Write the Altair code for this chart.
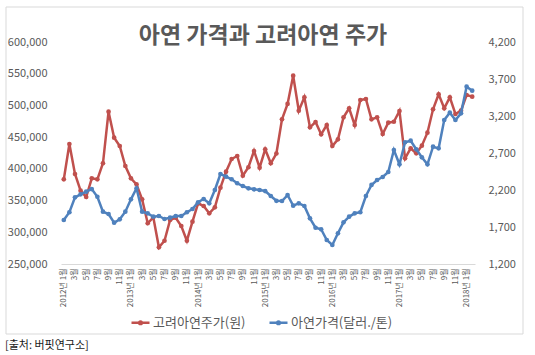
import altair as alt
import pandas as pd

# categories: monthly, 2012-01 .. 2018-02
months = [f"{y}-{m:02d}" for y in range(2012, 2019) for m in range(1, 13)][:74]

# 고려아연 주가 (원)
stock = [383500, 439200, 391900, 365600, 355600, 385100, 383500, 408800, 490100, 449100, 436000, 404500,
         385100, 375600, 352000, 314200, 323600, 276300, 286700, 319400, 323000, 309900, 286700, 316700,
         345700, 341400, 329900, 339400, 370300, 395500, 415500, 420300, 389200, 402500, 428200, 401800,
         430800, 408800, 424200, 478100, 502300, 546900, 491700, 512800, 465500, 473900, 454500, 469100,
         436000, 446600, 481300, 495500, 469100, 508600, 510100, 478100, 481300, 455000, 472800, 474300,
         491200, 416600, 432400, 424500, 436500, 457000, 493900, 517500, 495500, 512800, 486500, 491700,
         516400, 513800]

# 아연 가격 (달러/톤)
zinc = [1795, 1899, 2101, 2142, 2177, 2213, 2109, 1907, 1876, 1758, 1804, 1907,
        2074, 2223, 1907, 1885, 1839, 1849, 1808, 1826, 1849, 1849, 1899, 1943,
        2034, 2078, 2020, 2200, 2416, 2380, 2345, 2291, 2254, 2223, 2209, 2200,
        2186, 2119, 2054, 2051, 2132, 1988, 2020, 1984, 1817, 1690, 1669, 1524,
        1457, 1615, 1763, 1839, 1885, 1899, 2119, 2268, 2335, 2376, 2443, 2740,
        2547, 2845, 2866, 2750, 2642, 2547, 2785, 2763, 3146, 3245, 3146, 3236,
        3596, 3542]

series_names = ["고려아연주가(원)", "아연가격(달러./톤)"]
series_colors = ["#C0504D", "#4F81BD"]
left_ticks = [250000, 300000, 350000, 400000, 450000, 500000, 550000, 600000]
right_ticks = [1200, 1700, 2200, 2700, 3200, 3700, 4200]

df = pd.DataFrame({"month": months, "stock": stock, "zinc": zinc})

FONT = "Noto Sans CJK KR"
GRAY = "#595959"

label_expr = ("toNumber(slice(datum.value, 5)) % 2 == 1 ? "
              "(toNumber(slice(datum.value, 5)) == 1 ? slice(datum.value, 0, 4) + '년 1월' : "
              "toNumber(slice(datum.value, 5)) + '월') : ''")

xenc = alt.X("month:O", sort=months,
             scale=alt.Scale(padding=0.5),
             axis=alt.Axis(title=None, labelAngle=-90, labelExpr=label_expr, labelFontSize=8,
                           labelColor=GRAY, labelFont=FONT, labelOverlap=False, ticks=False,
                           tickSize=0, labelPadding=4, domainColor="#D9D9D9", grid=False))

color_scale = alt.Scale(domain=series_names, range=series_colors)

base = alt.Chart(df)

red = base.transform_calculate(series=f"'{series_names[0]}'").mark_line(
    strokeWidth=2.5, point=alt.OverlayMarkDef(filled=True, size=22)).encode(
    x=xenc,
    y=alt.Y("stock:Q", scale=alt.Scale(domain=[250000, 600000], nice=False, zero=False),
            axis=alt.Axis(title=None, orient="left", values=left_ticks, format=",d", labelFontSize=11,
                          labelColor=GRAY, labelFont=FONT, domain=False, ticks=False, tickSize=0,
                          grid=False, labelPadding=14)),
    color=alt.Color("series:N", scale=color_scale,
                    legend=alt.Legend(title=None, orient="none", legendX=69, legendY=270,
                                      direction="horizontal", labelFontSize=13, labelColor=GRAY,
                                      labelFont=FONT, columnPadding=18, labelOffset=2,
                                      symbolType="M-1,0L1,0M-0.15,0A0.15,0.15,0,1,1,0.15,0A0.15,0.15,0,1,1,-0.15,0",
                                      symbolSize=324, symbolStrokeWidth=2.5)),
)

blue = base.transform_calculate(series=f"'{series_names[1]}'").mark_line(
    strokeWidth=2.5, point=alt.OverlayMarkDef(filled=True, size=22)).encode(
    x=xenc,
    y=alt.Y("zinc:Q", scale=alt.Scale(domain=[1200, 4200], nice=False, zero=False),
            axis=alt.Axis(title=None, orient="right", values=right_ticks, format=",d", labelFontSize=11,
                          labelColor=GRAY, labelFont=FONT, domain=False, ticks=False, tickSize=0,
                          grid=False, labelPadding=13)),
    color=alt.Color("series:N", scale=color_scale),
)

frame = alt.Chart(alt.Data(values=[{}])).mark_rect(
    fill="#ffffff", fillOpacity=0, stroke="#D9D9D9", strokeWidth=1, strokeOpacity=1).encode(
    x=alt.value(-55), x2=alt.value(462), y=alt.value(-35), y2=alt.value(292)
)

source = alt.Chart(alt.Data(values=[{}])).mark_text(
    text="[출처: 버핏연구소]", align="left", baseline="middle", fontSize=11, font=FONT, color="#1a1a1a"
).encode(x=alt.value(-56), y=alt.value(304))

chart = alt.layer(frame, red, blue, source).resolve_scale(y="independent").properties(
    width=414, height=222,
    padding={"left": 61, "top": 42, "right": 60, "bottom": 91},
    autosize=alt.AutoSizeParams(type="none"),
    title=alt.TitleParams(text="아연 가격과 고려아연 주가", fontSize=23, fontWeight="bold", color=GRAY,
                          font=FONT, anchor="middle", offset=0, dx=-5, dy=41),
).configure_view(strokeWidth=0)

chart.save("out.html", embed_options={"renderer": "svg", "actions": False})
